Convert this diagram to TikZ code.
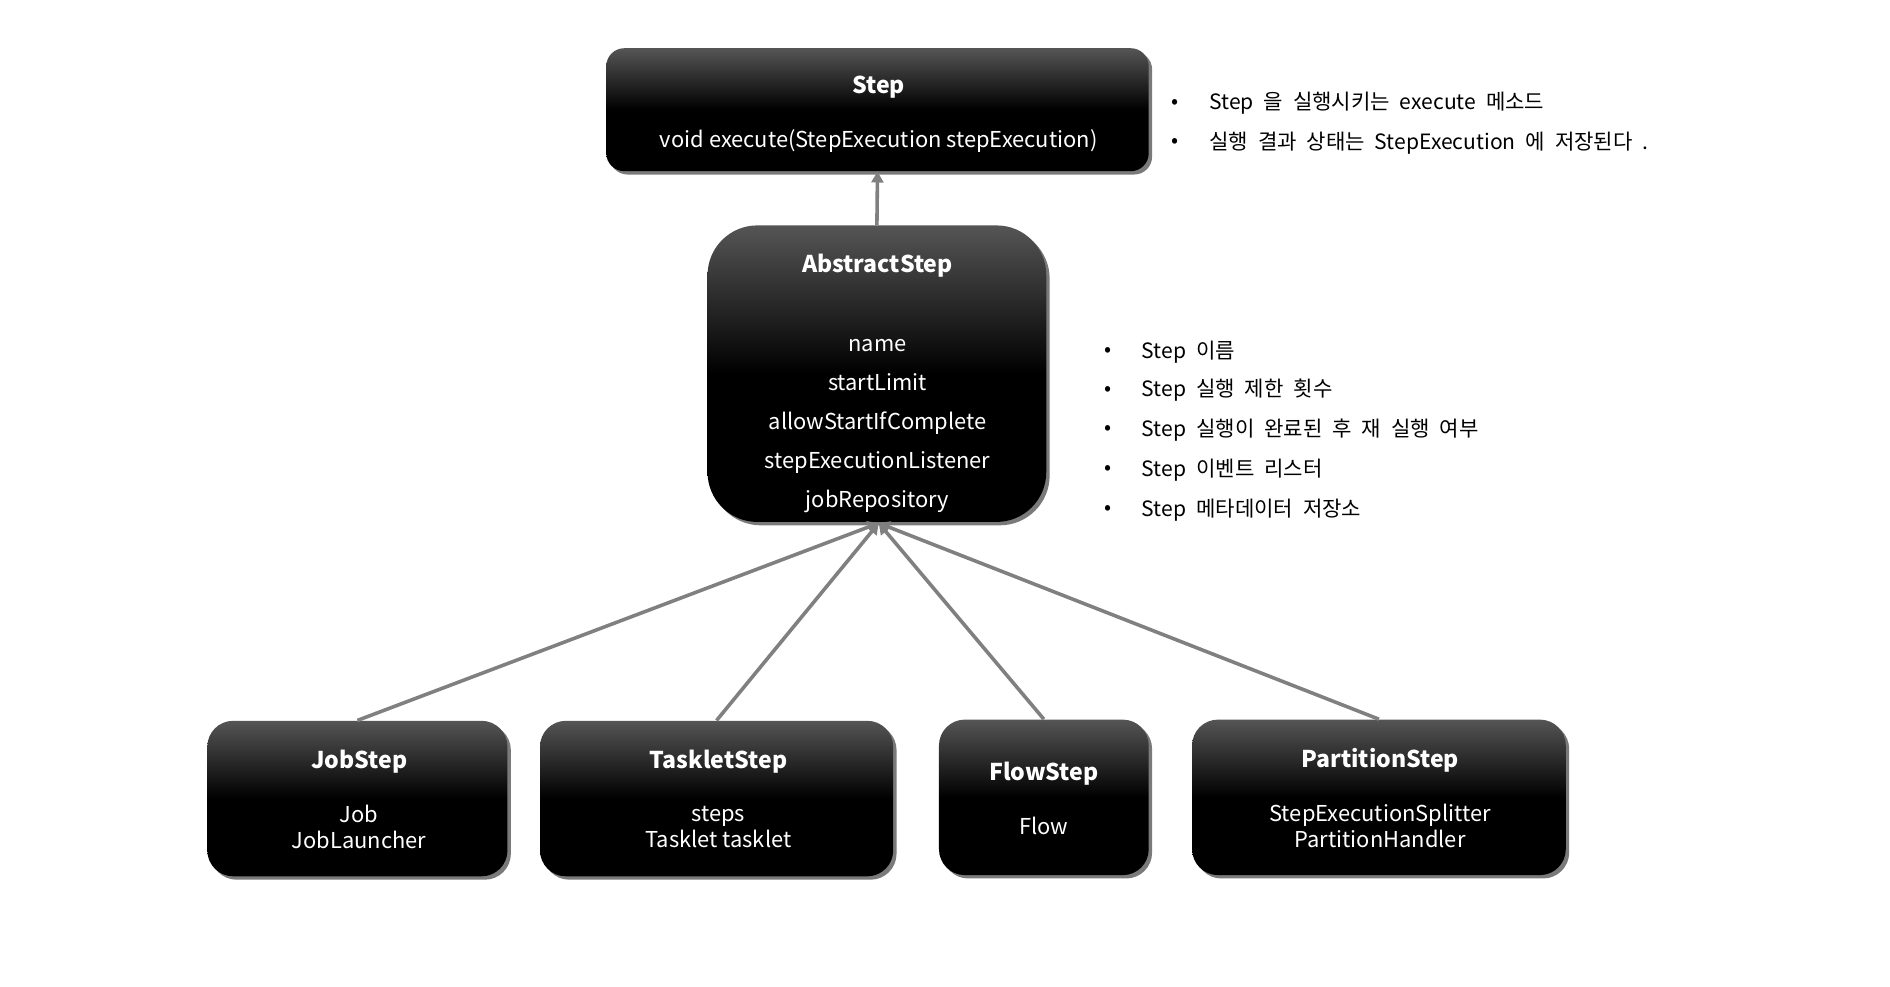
\documentclass[tikz,border=0pt]{standalone}
\usepackage{fontspec}
\setmainfont{Noto Sans CJK KR}
\newfontfamily\notefont[WordSpace=2.1]{Noto Sans CJK KR}
\usetikzlibrary{shadows,arrows.meta}
\definecolor{boxtop}{HTML}{555555}
\definecolor{shadowgray}{HTML}{7A7A7A}
\definecolor{arrowgray}{HTML}{808080}
\newlength\upx
\setlength\upx{0.6058pt}
\tikzset{
  box/.style={draw=none, rounded corners=#1, top color=boxtop, bottom color=black, middle color=black,
    drop shadow={shadow xshift=1.7pt, shadow yshift=-1.7pt, fill=shadowgray, opacity=1},
    inner sep=0pt},
  box/.default=8pt,
  title/.style={text=white, font=\fontsize{11.6}{14}\selectfont\bfseries, inner sep=0pt},
  body/.style={text=white, font=\fontsize{11}{13.3}\selectfont, align=center, inner sep=0pt},
  bullet/.style={font=\fontsize{10.5}{12}\selectfont, inner sep=0pt},
  note/.style={font=\notefont\fontsize{10.6}{12}\selectfont, anchor=west, inner sep=0pt},
  arr/.style={draw=arrowgray, line width=1.8pt, -{Triangle[length=5.5pt,width=6pt]}, shorten >=0pt}
}
\begin{document}
\begin{tikzpicture}[x=0.6058pt,y=-0.6058pt]
\path[use as bounding box] (0,0) rectangle (1568,818.8);

% Step
\node[box=9pt, minimum width=450*\upx, minimum height=102*\upx] (step) at (728,91) {};
\node[title] (stepT) at (729,72) {Step};
\node[body] (stepB) at (729,117) {void execute(StepExecution stepExecution)};

% AbstractStep
\node[box=25pt, minimum width=281*\upx, minimum height=246*\upx] (abs) at (727.5,310) {};
\node[title] (absT) at (728,220) {AbstractStep};
\node[body, font=\fontsize{11}{19.7}\selectfont] (absB) at (728,353.5) {name\\startLimit\\allowStartIfComplete\\stepExecutionListener\\jobRepository};

% bottom boxes
\node[box=13pt, minimum width=249*\upx, minimum height=129*\upx] (job) at (296.5,662.5) {};
\node[title] (jobT) at (298,632) {JobStep};
\node[body] (jobB) at (298,686) {Job\\JobLauncher};

\node[box=13pt, minimum width=293*\upx, minimum height=129*\upx] (task) at (594.5,662.5) {};
\node[title] (taskT) at (596,632) {TaskletStep};
\node[body] (taskB) at (596,686) {steps\\Tasklet tasklet};

\node[box=13pt, minimum width=174*\upx, minimum height=129*\upx] (flow) at (866,661.5) {};
\node[title] (flowT) at (866,642) {FlowStep};
\node[body] (flowB) at (866,685) {Flow};

\node[box=13pt, minimum width=310*\upx, minimum height=129*\upx] (part) at (1144,661.5) {};
\node[title] (partT) at (1145,631) {PartitionStep};
\node[body] (partB) at (1145,685) {StepExecutionSplitter\\PartitionHandler};

% arrows
\coordinate (absbot) at (729,434);
\draw[arr] (abs.north) -- (step.south);
\draw[arr] (job.north) -- (absbot);
\draw[arr] (task.north) -- (absbot);
\draw[arr] (flow.north) -- (absbot);
\draw[arr] (part.north) -- (absbot);

% notes top
\node[bullet] (b1) at (975,86) {•};
\node[note] (n1) at (1003,86) {Step 을 실행시키는 execute 메소드};
\node[bullet] (b2) at (975,119) {•};
\node[note] (n2) at (1003,119) {실행 결과 상태는 StepExecution 에 저장된다 .};

% notes middle
\node[bullet] (c1) at (919,292) {•};
\node[note] (m1) at (947,292) {Step 이름};
\node[bullet] (c2) at (919,324) {•};
\node[note] (m2) at (947,324) {Step 실행 제한 횟수};
\node[bullet] (c3) at (919,357) {•};
\node[note] (m3) at (947,357) {Step 실행이 완료된 후 재 실행 여부};
\node[bullet] (c4) at (919,390) {•};
\node[note] (m4) at (947,390) {Step 이벤트 리스터};
\node[bullet] (c5) at (919,423) {•};
\node[note] (m5) at (947,423) {Step 메타데이터 저장소};
\end{tikzpicture}
\end{document}
